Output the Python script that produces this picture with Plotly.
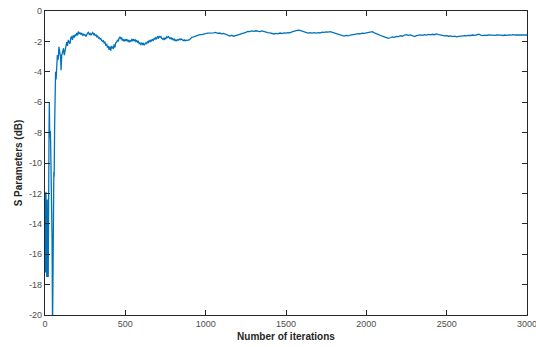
import plotly.graph_objects as go

early_iter = [0, 1, 2, 3, 4, 5, 6, 7, 8, 9, 10, 11, 12, 13, 14, 15, 16, 17, 18, 19, 20,
              22, 25, 27, 29, 31, 33, 35, 38, 41, 44, 47, 50, 53, 55, 57, 60, 63, 66, 69, 72, 77,
              82, 87, 93, 97, 100, 104, 110, 115, 120, 124, 130, 135, 140, 145, 150, 156, 161,
              166, 171, 176, 182, 187, 192, 198, 203, 208, 213, 218, 223, 228, 234, 239, 244,
              249, 255, 260, 265, 270, 276, 281, 286, 291, 297, 302, 307, 312, 318, 323, 328,
              333, 338, 343, 348, 353, 358, 363, 368, 373, 378, 384, 389, 394, 399, 404, 409,
              415, 420, 425, 430, 435, 440, 446, 451, 456, 461, 467, 472, 477, 482, 487, 492,
              498, 503, 508, 513, 518, 524, 529, 534, 540, 545, 550, 556, 561, 566, 571, 576,
              581, 586, 591, 597, 602, 607, 612, 617, 622, 628, 633, 638, 643, 648, 654, 659,
              664, 669, 674, 680, 685, 690, 695, 700, 706, 711, 716, 721, 726, 732, 737, 742,
              747, 752, 758, 763, 768, 773, 778, 784, 789, 794, 799, 804, 810, 815, 820, 825,
              830, 836, 841, 846, 851, 856, 862, 867, 872, 877, 882]
early_val = [-12.0, -15.5, -12.3, -17.2, -13.0, -16.0, -11.9, -17.4, -12.6, -15.0, -12.2,
             -17.5, -13.5, -16.5, -12.4, -17.3, -14.0, -17.5, -15.2, -17.4, -17.5,
             -14.0, -8.0, -6.0, -7.9, -8.3, -7.9, -8.6, -10.3, -11.5, -15.0, -21.0, -16.0,
             -11.2, -10.6, -10.9, -7.5, -5.0, -4.0, -4.5, -3.5, -2.9, -3.2, -2.35, -2.8, -3.0,
             -3.9, -2.9, -2.7, -2.45, -2.9, -2.6, -2.4, -2.05, -2.3, -1.9, -2.05, -2.15, -1.75,
             -1.7, -1.9, -1.6, -1.75, -1.55, -1.65, -1.45, -1.6, -1.35, -1.5, -1.42, -1.55,
             -1.45, -1.62, -1.5, -1.58, -1.55, -1.68, -1.5, -1.45, -1.4, -1.55, -1.48, -1.6,
             -1.5, -1.42, -1.55, -1.5, -1.62, -1.58, -1.7, -1.65, -1.78, -1.75, -1.85, -1.82,
             -1.95, -2.0, -1.95, -2.1, -2.05, -2.25, -2.2, -2.4, -2.3, -2.55, -2.35, -2.6,
             -2.3, -2.45, -2.5, -2.2, -2.4, -2.1, -2.05, -1.9, -2.0, -1.8, -1.7, -1.85,
             -1.75, -1.95, -1.85, -2.0, -1.88, -1.95, -1.85, -2.0, -1.9, -2.05, -1.95, -2.0,
             -1.88, -1.95, -1.85, -1.98, -1.9, -2.0, -1.92, -2.05, -2.0, -2.15, -2.1, -2.2,
             -2.12, -2.2, -2.1, -2.25, -2.2, -2.1, -2.15, -2.0, -2.1, -1.95, -2.02, -1.9, -2.0,
             -1.85, -1.92, -1.8, -1.85, -1.75, -1.82, -1.7, -1.78, -1.65, -1.72, -1.68, -1.8,
             -1.85, -1.8, -1.9, -1.78, -1.82, -1.7, -1.75, -1.68, -1.78, -1.82, -1.75, -1.85,
             -1.82, -1.9, -1.85, -1.95, -1.9, -1.96, -1.88, -1.92, -1.85, -1.9, -1.84, -1.88,
             -1.9, -1.95, -1.9, -1.96, -1.92, -1.95]

late_iter = [887, 900, 912, 925, 937, 950, 962, 975, 987, 1000, 1012, 1025, 1037, 1050, 1062,
             1075, 1087, 1100, 1112, 1125, 1137, 1150, 1162, 1175, 1187, 1200, 1212, 1225, 1237,
             1250, 1262, 1275, 1287, 1300, 1312, 1325, 1337, 1350, 1362, 1375, 1387, 1400, 1412,
             1425, 1437, 1450, 1462, 1475, 1487, 1500, 1512, 1525, 1537, 1550, 1562, 1575, 1587,
             1600, 1612, 1625, 1637, 1650, 1662, 1675, 1687, 1700, 1712, 1725, 1737, 1750, 1762,
             1775, 1787, 1800, 1812, 1825, 1837, 1850, 1862, 1875, 1887, 1900, 1912, 1925, 1937,
             1950, 1962, 1975, 1987, 2000, 2012, 2025, 2037, 2050, 2062, 2075, 2087, 2100, 2112,
             2125, 2137, 2150, 2162, 2175, 2187, 2200, 2212, 2225, 2237, 2250, 2262, 2275, 2287,
             2300, 2312, 2325, 2337, 2350, 2362, 2375, 2387, 2400, 2412, 2425, 2437, 2450, 2462,
             2475, 2487, 2500, 2512, 2525, 2537, 2550, 2562, 2575, 2587, 2600, 2612, 2625, 2637,
             2650, 2662, 2675, 2687, 2700, 2712, 2725, 2737, 2750, 2762, 2775, 2787, 2800, 2812,
             2825, 2837, 2850, 2862, 2875, 2887, 2900, 2912, 2925, 2937, 2950, 2962, 2975, 2987,
             3000]
late_val = [-1.93, -1.88, -1.74, -1.70, -1.64, -1.60, -1.56, -1.55, -1.50, -1.49, -1.45, -1.46,
            -1.42, -1.44, -1.41, -1.47, -1.45, -1.50, -1.48, -1.55, -1.60, -1.65, -1.60, -1.66,
            -1.62, -1.58, -1.55, -1.50, -1.45, -1.40, -1.34, -1.36, -1.31, -1.34, -1.30, -1.33,
            -1.35, -1.31, -1.36, -1.38, -1.42, -1.44, -1.48, -1.51, -1.47, -1.50, -1.45, -1.48,
            -1.44, -1.46, -1.42, -1.44, -1.38, -1.34, -1.29, -1.26, -1.28, -1.33, -1.38, -1.41,
            -1.46, -1.43, -1.46, -1.42, -1.45, -1.42, -1.44, -1.40, -1.41, -1.37, -1.39, -1.36,
            -1.40, -1.42, -1.48, -1.53, -1.58, -1.62, -1.65, -1.61, -1.64, -1.58, -1.56, -1.52,
            -1.54, -1.49, -1.51, -1.46, -1.47, -1.43, -1.41, -1.38, -1.36, -1.44, -1.50, -1.57,
            -1.63, -1.66, -1.70, -1.74, -1.80, -1.76, -1.71, -1.73, -1.67, -1.69, -1.63, -1.66,
            -1.58, -1.56, -1.60, -1.57, -1.61, -1.68, -1.62, -1.60, -1.57, -1.60, -1.55, -1.58,
            -1.54, -1.57, -1.53, -1.56, -1.51, -1.55, -1.58, -1.62, -1.64, -1.62, -1.66, -1.64,
            -1.68, -1.66, -1.70, -1.67, -1.65, -1.66, -1.62, -1.64, -1.60, -1.61, -1.58, -1.60,
            -1.55, -1.53, -1.58, -1.62, -1.59, -1.61, -1.57, -1.59, -1.57, -1.60, -1.58, -1.61,
            -1.59, -1.61, -1.58, -1.60, -1.57, -1.59, -1.56, -1.58, -1.57, -1.59, -1.57, -1.58,
            -1.57, -1.58]

iterations = early_iter + late_iter
s_param = early_val + late_val

x_ticks = [0, 500, 1000, 1500, 2000, 2500, 3000]
y_ticks = [0, -2, -4, -6, -8, -10, -12, -14, -16, -18, -20]

fig = go.Figure()
fig.add_trace(go.Scatter(x=iterations, y=s_param, mode="lines",
                         line=dict(color="#0072BD", width=1.3), showlegend=False))

axis_common = dict(showline=True, linecolor="#262626", linewidth=1.3, mirror="ticks",
                   ticks="inside", ticklen=5, tickwidth=1, tickcolor="#262626",
                   showgrid=False, zeroline=False, automargin=False,
                   ticklabeloverflow="allow",
                   tickfont=dict(family="Liberation Sans, Arial", size=9, color="#4d4d4d"))

fig.update_layout(
    width=536, height=347,
    margin=dict(l=45, r=9, t=11, b=32),
    paper_bgcolor="white", plot_bgcolor="white",
    xaxis=dict(range=[0, 3000], tickvals=x_ticks, ticktext=[str(v) for v in x_ticks],
               title=dict(text="<b>Number of iterations</b>", standoff=5,
                          font=dict(family="Liberation Sans, Arial", size=10, color="#262626")),
               **axis_common),
    yaxis=dict(range=[-20, 0], tickvals=y_ticks, ticktext=[str(v) for v in y_ticks],
               title=dict(text="<b>S Parameters (dB)</b>", standoff=4,
                          font=dict(family="Liberation Sans, Arial", size=10, color="#262626")),
               **axis_common),
)

fig.write_html("out.html")
